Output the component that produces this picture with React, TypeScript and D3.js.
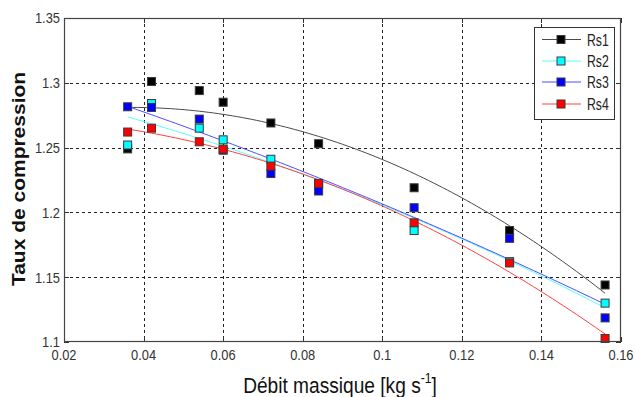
import React from "react";
import * as d3 from "d3";

const xValues = [0.036, 0.042, 0.054, 0.06, 0.072, 0.084, 0.108, 0.132, 0.156];
const rs1 = [1.249, 1.301, 1.294, 1.285, 1.269, 1.253, 1.219, 1.186, 1.144];
const rs2 = [1.252, 1.284, 1.265, 1.256, 1.241, 1.222, 1.186, 1.162, 1.13];
const rs3 = [1.2815, 1.281, 1.272, 1.248, 1.23, 1.2165, 1.2036, 1.18, 1.1186];
const rs4 = [1.262, 1.265, 1.2545, 1.2488, 1.2357, 1.2224, 1.192, 1.161, 1.1027];
const seriesNames = ["Rs1", "Rs2", "Rs3", "Rs4"];
const xTicks = [0.02, 0.04, 0.06, 0.08, 0.1, 0.12, 0.14, 0.16];
const xTickLabels = ["0.02", "0.04", "0.06", "0.08", "0.1", "0.12", "0.14", "0.16"];
const yTicks = [1.1, 1.15, 1.2, 1.25, 1.3, 1.35];
const yTickLabels = ["1.1", "1.15", "1.2", "1.25", "1.3", "1.35"];

const W = 635, H = 397;
const L = 64, R = 621, T = 18, B = 342;
const markerFill = ["#000000", "#00ffff", "#0000ff", "#ff0000"];
const lineColor = ["#4a4a4a", "#55ffff", "#4c4cff", "#ff4040"];

function polyfit2(xs: number[], ys: number[]) {
  // least squares quadratic: y = a + b x + c x^2
  const n = xs.length;
  const S = [0, 0, 0, 0, 0];
  const Sy = [0, 0, 0];
  for (let i = 0; i < n; i++) {
    const x = xs[i];
    for (let k = 0; k < 5; k++) S[k] += Math.pow(x, k);
    for (let k = 0; k < 3; k++) Sy[k] += ys[i] * Math.pow(x, k);
  }
  const M = [
    [S[0], S[1], S[2], Sy[0]],
    [S[1], S[2], S[3], Sy[1]],
    [S[2], S[3], S[4], Sy[2]],
  ];
  for (let c = 0; c < 3; c++) {
    let p = c;
    for (let r = c + 1; r < 3; r++) if (Math.abs(M[r][c]) > Math.abs(M[p][c])) p = r;
    [M[c], M[p]] = [M[p], M[c]];
    for (let r = 0; r < 3; r++) {
      if (r === c) continue;
      const f = M[r][c] / M[c][c];
      for (let k = c; k < 4; k++) M[r][k] -= f * M[c][k];
    }
  }
  const coef = [M[0][3] / M[0][0], M[1][3] / M[1][1], M[2][3] / M[2][2]];
  return (x: number) => coef[0] + coef[1] * x + coef[2] * x * x;
}

export default function App() {
  const x = d3.scaleLinear().domain([0.02, 0.16]).range([L, R]);
  const y = d3.scaleLinear().domain([1.1, 1.35]).range([B, T]);
  const all = [rs1, rs2, rs3, rs4];
  const samples = d3.range(0, 101).map((i) => xValues[0] + (i / 100) * (xValues[xValues.length - 1] - xValues[0]));
  const line = d3.line<[number, number]>().x((d) => x(d[0])).y((d) => y(d[1]));
  const fits = all.map((s) => {
    const f = polyfit2(xValues, s);
    return line(samples.map((sx) => [sx, f(sx)] as [number, number])) || "";
  });
  const ms = 8;
  const legendX = 534.5, legendY = 27.5, legendW = 80, legendH = 92;
  const legendRows = [39.5, 61, 82, 104];
  const tickFont = "Arial, 'Liberation Sans', sans-serif";

  return (
    <svg width={W} height={H} style={{ position: "absolute", left: 0, top: 0, background: "#fff" }}>
      <rect x={0} y={0} width={W} height={H} fill="#fff" />
      {/* grid */}
      <g stroke="#222" strokeWidth={1} strokeDasharray="3,3">
        {xTicks.slice(1, -1).map((t) => (
          <line key={"gx" + t} x1={Math.round(x(t)) + 0.5} x2={Math.round(x(t)) + 0.5} y1={T} y2={B} />
        ))}
        {yTicks.slice(1, -1).map((t) => (
          <line key={"gy" + t} x1={L} x2={R} y1={Math.round(y(t)) + 0.5} y2={Math.round(y(t)) + 0.5} />
        ))}
      </g>
      {/* inner ticks */}
      <g stroke="#333" strokeWidth={1}>
        {xTicks.map((t) => (
          <g key={"tx" + t}>
            <line x1={Math.round(x(t)) + 0.5} x2={Math.round(x(t)) + 0.5} y1={B} y2={B - 5} />
            <line x1={Math.round(x(t)) + 0.5} x2={Math.round(x(t)) + 0.5} y1={T} y2={T + 5} />
          </g>
        ))}
        {yTicks.map((t) => (
          <g key={"ty" + t}>
            <line x1={L} x2={L + 5} y1={Math.round(y(t)) + 0.5} y2={Math.round(y(t)) + 0.5} />
            <line x1={R} x2={R - 5} y1={Math.round(y(t)) + 0.5} y2={Math.round(y(t)) + 0.5} />
          </g>
        ))}
      </g>
      {/* fit curves */}
      {fits.map((d, i) => (
        <path key={"fit" + i} d={d} fill="none" stroke={lineColor[i]} strokeWidth={1} />
      ))}
      {/* markers */}
      {all.map((s, i) => (
        <g key={"m" + i}>
          {s.map((v, j) => (
            <rect
              key={j}
              x={x(xValues[j]) - ms / 2}
              y={y(v) - ms / 2}
              width={ms}
              height={ms}
              fill={markerFill[i]}
              stroke="#3a3a3a"
              strokeWidth={1}
            />
          ))}
        </g>
      ))}
      {/* axes box */}
      <rect x={L + 0.5} y={T + 0.5} width={R - L - 1} height={B - T - 1} fill="none" stroke="#444" strokeWidth={1.2} />
      {/* tick labels */}
      <g fontFamily={tickFont} fontSize={15} fill="#333">
        {yTicks.map((t, i) => (
          <text key={"yl" + t} transform={`translate(60,${y(t) + 5.3}) scale(0.86,1)`} textAnchor="end">
            {yTickLabels[i]}
          </text>
        ))}
        {xTicks.map((t, i) => (
          <text key={"xl" + t} transform={`translate(${x(t)},360) scale(0.86,1)`} textAnchor="middle">
            {xTickLabels[i]}
          </text>
        ))}
      </g>
      {/* axis titles */}
      <text
        transform="translate(340,393) scale(0.87,1)"
        textAnchor="middle"
        fontFamily={tickFont}
        fontSize={22}
        fill="#111"
      >
        Débit massique [kg s
        <tspan fontSize={14} dy={-10}>-1</tspan>
        <tspan dy={10}>]</tspan>
      </text>
      <text
        transform="translate(25,179) rotate(-90) scale(1,0.87)"
        textAnchor="middle"
        fontFamily={tickFont}
        fontWeight="bold"
        fontSize={21}
        fill="#111"
      >
        Taux de compression
      </text>
      {/* legend */}
      <rect x={legendX} y={legendY} width={legendW} height={legendH} fill="#fff" stroke="#333" strokeWidth={1} />
      {seriesNames.map((n, i) => (
        <g key={"lg" + n}>
          <line x1={542} x2={581} y1={legendRows[i]} y2={legendRows[i]} stroke={lineColor[i]} strokeWidth={1} />
          <rect
            x={561 - ms / 2}
            y={legendRows[i] - ms / 2}
            width={ms}
            height={ms}
            fill={markerFill[i]}
            stroke="#3a3a3a"
            strokeWidth={1}
          />
          <text
            transform={`translate(587,${legendRows[i] + 6}) scale(0.72,1)`}
            fontFamily={tickFont}
            fontSize={17}
            fill="#222"
          >
            {n}
          </text>
        </g>
      ))}
    </svg>
  );
}
